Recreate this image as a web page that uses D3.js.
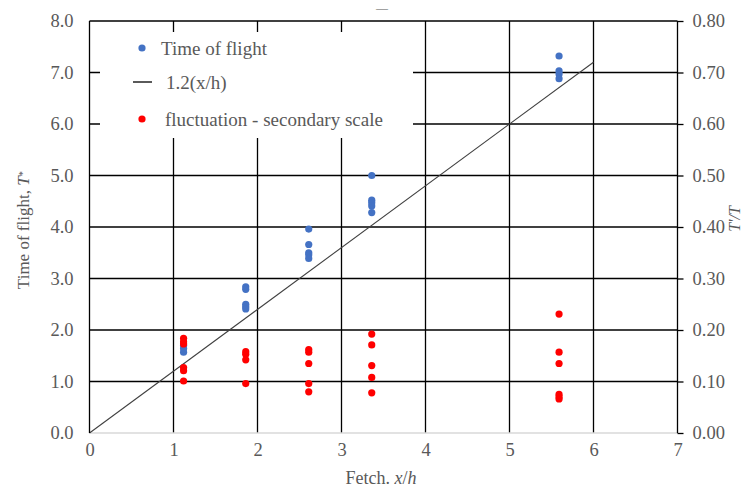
<!DOCTYPE html>
<html>
<head>
<meta charset="utf-8">
<script src="https://cdn.jsdelivr.net/npm/d3@7"></script>
<style>
  body { margin: 0; background: #fff; }
  svg text { font-family: "Liberation Serif", "Times New Roman", serif; fill: #595959; }
</style>
</head>
<body>
<div id="chart"></div>
<script>
// Fetch positions of the five measurement stations
const fetchX = [1.12, 1.86, 2.61, 3.36, 5.59];

// Time of flight T* at each station (primary scale)
const timeOfFlight = [
  [1.70, 1.64, 1.57],
  [2.84, 2.79, 2.50, 2.45, 2.41],
  [3.96, 3.66, 3.50, 3.46, 3.39],
  [5.00, 4.52, 4.47, 4.41, 4.28],
  [7.32, 7.03, 6.97, 6.88]
];

// Fluctuation T'/T at each station (secondary scale)
const fluctuation = [
  [0.184, 0.177, 0.173, 0.127, 0.121, 0.101],
  [0.158, 0.153, 0.142, 0.096],
  [0.162, 0.157, 0.135, 0.096, 0.080],
  [0.192, 0.171, 0.131, 0.108, 0.078],
  [0.231, 0.157, 0.135, 0.075, 0.070, 0.066]
];

// Reference line 1.2(x/h), end points
const fitLineX = [0, 6];
const fitLineY = [0, 7.2];

// Tick labels
const xTicks = [0, 1, 2, 3, 4, 5, 6, 7];
const yTicks = [0, 1, 2, 3, 4, 5, 6, 7, 8];
const y2Ticks = [0, 0.1, 0.2, 0.3, 0.4, 0.5, 0.6, 0.7, 0.8];

const legendItems = ['Time of flight', '1.2(x/h)', 'fluctuation - secondary scale'];

function renderChart() {
  const width = 744;
  const height = 489;
  const left = 89.5, right = 677.5, top = 21, bottom = 433;

  const svg = d3.select('#chart')
    .append('svg')
    .attr('width', width)
    .attr('height', height);

  const x = d3.scaleLinear().domain([0, 7]).range([left, right]);
  const y = d3.scaleLinear().domain([0, 8]).range([bottom, top]);
  const y2 = d3.scaleLinear().domain([0, 0.8]).range([bottom, top]);

  // Gridlines
  svg.append('g')
    .selectAll('line')
    .data(yTicks.filter(d => d > 0))
    .join('line')
    .attr('x1', left).attr('x2', right)
    .attr('y1', d => y(d)).attr('y2', d => y(d))
    .attr('stroke', '#000')
    .attr('stroke-width', 1.3);

  svg.append('g')
    .selectAll('line')
    .data(xTicks.filter(d => d > 0 && d < 7))
    .join('line')
    .attr('x1', d => x(d)).attr('x2', d => x(d))
    .attr('y1', top).attr('y2', bottom)
    .attr('stroke', '#000')
    .attr('stroke-width', 1.3);

  // Bottom axis line (light grey)
  svg.append('line')
    .attr('x1', left).attr('x2', right)
    .attr('y1', bottom).attr('y2', bottom)
    .attr('stroke', '#d9d9d9')
    .attr('stroke-width', 1.3);

  // Legend background
  const lg = svg.append('g');
  lg.append('rect')
    .attr('x', 100).attr('y', 32)
    .attr('width', 313).attr('height', 106)
    .attr('fill', '#fff');

  // Fit line
  svg.append('line')
    .attr('x1', x(fitLineX[0])).attr('y1', y(fitLineY[0]))
    .attr('x2', x(fitLineX[1])).attr('y2', y(fitLineY[1]))
    .attr('stroke', '#404040')
    .attr('stroke-width', 1.1);

  // Points
  const bluePts = fetchX.flatMap((fx, i) => timeOfFlight[i].map(v => [fx, v]));
  const redPts = fetchX.flatMap((fx, i) => fluctuation[i].map(v => [fx, v]));

  svg.append('g')
    .selectAll('circle')
    .data(bluePts)
    .join('circle')
    .attr('cx', d => x(d[0]))
    .attr('cy', d => y(d[1]))
    .attr('r', 3.6)
    .attr('fill', '#4472c4');

  svg.append('g')
    .selectAll('circle')
    .data(redPts)
    .join('circle')
    .attr('cx', d => x(d[0]))
    .attr('cy', d => y2(d[1]))
    .attr('r', 3.6)
    .attr('fill', '#ff0000');

  // Axes
  svg.append('line')
    .attr('x1', left).attr('x2', left)
    .attr('y1', top).attr('y2', bottom)
    .attr('stroke', '#000').attr('stroke-width', 1.3);

  const leftAxis = svg.append('g')
    .attr('transform', `translate(${left},0)`)
    .call(d3.axisLeft(y).tickValues(yTicks).tickSize(0).tickPadding(16).tickFormat(d3.format('.1f')));
  leftAxis.select('.domain').remove();

  const rightAxis = svg.append('g')
    .attr('transform', `translate(${right},0)`)
    .call(d3.axisRight(y2).tickValues(y2Ticks).tickSize(6).tickPadding(9).tickFormat(d3.format('.2f')));
  rightAxis.select('.domain')
    .attr('d', `M0,${top}V${bottom}`)
    .attr('stroke', '#000').attr('stroke-width', 1.3);
  rightAxis.selectAll('line').attr('stroke', '#000').attr('stroke-width', 1.3);

  const bottomAxis = svg.append('g')
    .attr('transform', `translate(0,${bottom})`)
    .call(d3.axisBottom(x).tickValues(xTicks).tickSize(0).tickPadding(10).tickFormat(d3.format('d')));
  bottomAxis.select('.domain').remove();

  svg.selectAll('.tick text')
    .style('font-family', '"Liberation Serif", serif')
    .style('font-size', '18.5px')
    .attr('fill', '#595959');

  // Legend contents
  const legendY = [48, 82, 119];
  lg.append('circle').attr('cx', 142).attr('cy', legendY[0]).attr('r', 3.6).attr('fill', '#4472c4');
  lg.append('line').attr('x1', 133).attr('x2', 152).attr('y1', legendY[1]).attr('y2', legendY[1])
    .attr('stroke', '#000').attr('stroke-width', 1.3);
  lg.append('circle').attr('cx', 142).attr('cy', legendY[2]).attr('r', 3.6).attr('fill', '#ff0000');
  const legendTextX = [161, 166, 165];
  lg.selectAll('text.leg')
    .data(legendItems)
    .join('text')
    .attr('class', 'leg')
    .attr('x', (d, i) => legendTextX[i])
    .attr('y', (d, i) => legendY[i])
    .attr('dy', '0.35em')
    .style('font-size', '19px')
    .text(d => d);

  // Axis titles
  const xTitle = svg.append('text')
    .attr('x', 381)
    .attr('y', 478)
    .attr('dy', '0.35em')
    .attr('text-anchor', 'middle')
    .style('font-size', '18px');
  xTitle.append('tspan').text('Fetch. ');
  xTitle.append('tspan').style('font-style', 'italic').text('x');
  xTitle.append('tspan').text('/');
  xTitle.append('tspan').style('font-style', 'italic').text('h');

  const yTitle = svg.append('text')
    .attr('transform', `translate(23,${230}) rotate(-90)`)
    .attr('dy', '0.35em')
    .attr('text-anchor', 'middle')
    .style('font-size', '17px');
  yTitle.append('tspan').text('Time of flight, ');
  yTitle.append('tspan').style('font-style', 'italic').text('T');
  yTitle.append('tspan').attr('dy', '-0.3em').style('font-size', '11px').text('*');

  svg.append('text')
    .attr('transform', `translate(734,${219}) rotate(-90)`)
    .attr('dy', '0.35em')
    .attr('text-anchor', 'middle')
    .style('font-size', '16px')
    .style('font-style', 'italic')
    .text("T'/T");

  // Empty chart-title remnant
  svg.append('text')
    .attr('x', 382)
    .attr('y', 12)
    .attr('text-anchor', 'middle')
    .style('font-size', '12px')
    .text('—');
}

renderChart();
</script>
</body>
</html>
